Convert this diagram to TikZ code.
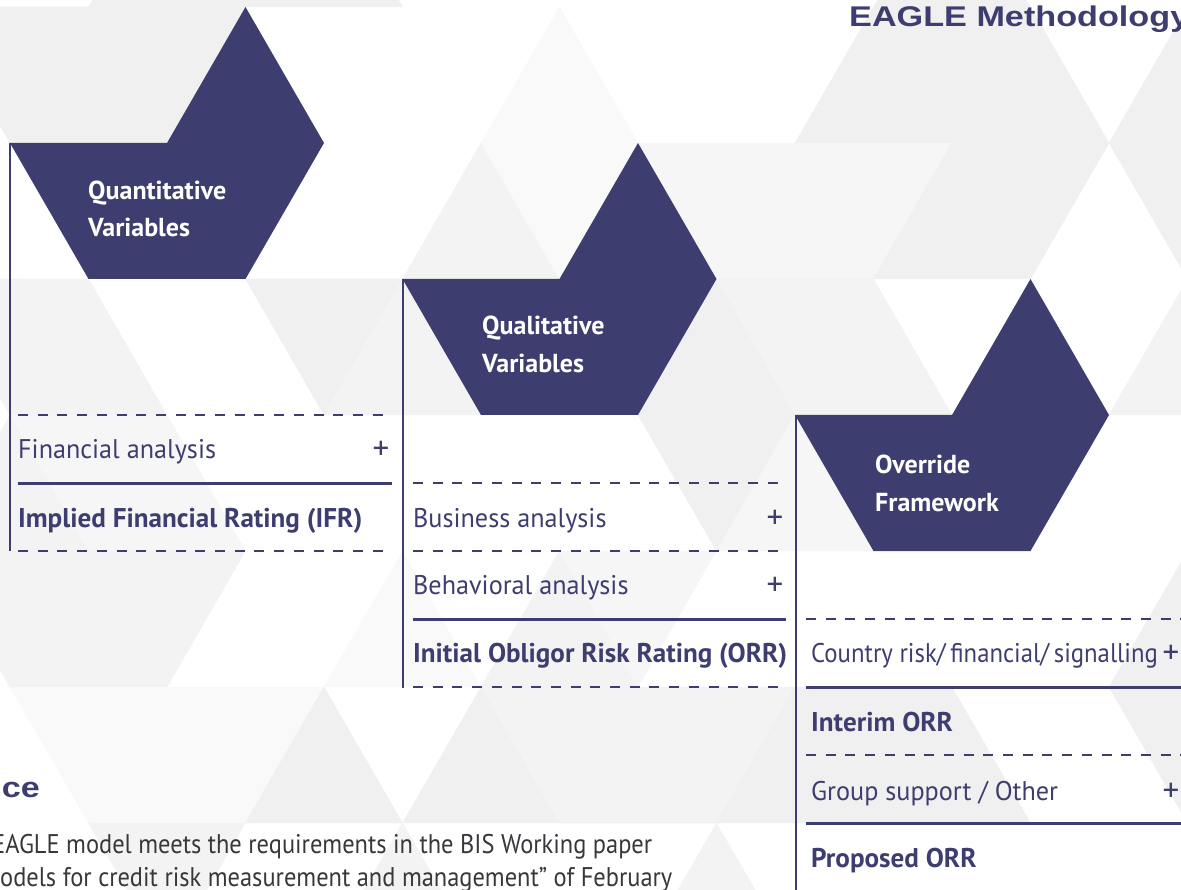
\documentclass[tikz,border=0pt]{standalone}
\usepackage{fontspec}
\setmainfont{PT Sans}
\newfontfamily\titlefont[FakeStretch=1.2]{Liberation Sans}
\newfontfamily\rowfont[FakeStretch=0.97]{PT Sans}
\newfontfamily\parafont[FakeStretch=0.905]{PT Sans}
\definecolor{navy}{RGB}{62,61,112}
\definecolor{txtgray}{RGB}{55,55,60}
\definecolor{gA}{RGB}{240,240,240}
\definecolor{gB}{RGB}{243,243,243}
\definecolor{gC}{RGB}{246,246,246}
\definecolor{gD}{RGB}{249,249,249}
\newcommand{\Utri}[3]{\filldraw[fill=#3,draw=#3,line width=0.4pt] ({10+78.5*(#1)},{7+136*(#2)}) -- ({10+78.5*(#1-1)},{7+136*(#2+1)}) -- ({10+78.5*(#1+1)},{7+136*(#2+1)}) -- cycle;}
\newcommand{\Dtri}[3]{\filldraw[fill=#3,draw=#3,line width=0.4pt] ({10+78.5*(#1)},{7+136*(#2)}) -- ({10+78.5*(#1+2)},{7+136*(#2)}) -- ({10+78.5*(#1+1)},{7+136*(#2+1)}) -- cycle;}
\newcommand{\bannerat}[2]{\fill[navy] (#1,#2) -- ++(157,0) -- ++(78.5,-136) -- ++(78.5,136) -- ++(-78.5,136) -- ++(-157,0) -- cycle;}
\tikzset{
  bantext/.style={anchor=base west,inner sep=0,text=white,font=\fontsize{26}{30}\selectfont\bfseries},
  rowtext/.style={anchor=base west,inner sep=0,text=navy,font=\rowfont\fontsize{27}{30}\selectfont},
  rowbold/.style={anchor=base west,inner sep=0,text=navy,font=\fontsize{27.1}{30}\selectfont\bfseries},
  plus/.style={anchor=center,inner sep=0,text=navy,font=\fontsize{33}{33}\selectfont},
  flag/.style={draw=navy,line width=2pt},
  dashsep/.style={draw=navy,line width=1.5pt,dash pattern=on 10pt off 9.7pt},
  solidsep/.style={draw=navy,line width=3pt},
  heading/.style={inner sep=0,text=navy,font=\titlefont\fontsize{28.5}{30}\selectfont\bfseries},
  para/.style={anchor=base west,inner sep=0,text=txtgray,font=\parafont\fontsize{27}{30}\selectfont}
}
\begin{document}
\begin{tikzpicture}[x=1pt,y=-1pt]
\useasboundingbox (0,0) rectangle (1181,890);
\begin{scope}
\clip (0,0) rectangle (1181,890);
% ---------- background triangles ----------
\Utri{2}{-1}{gA}\Dtri{2}{-1}{gA}\Utri{4}{-1}{gA}\Utri{12}{-1}{gA}
\Dtri{-1}{0}{gA}\Utri{1}{0}{gA}\Dtri{1}{0}{gA}
\Utri{7}{0}{gD}
\Utri{11}{0}{gA}\Dtri{11}{0}{gA}\Utri{13}{0}{gA}\Utri{15}{0}{gA}
\Utri{6}{1}{gB}\Dtri{6}{1}{gD}
\Dtri{8}{1}{gC}\Utri{10}{1}{gC}\Dtri{10}{1}{gC}
\Utri{12}{1}{gA}\Dtri{12}{1}{gA}\Dtri{14}{1}{gA}
\Dtri{-1}{2}{gB}\Utri{1}{2}{gB}
\Dtri{3}{2}{gA}\Utri{5}{2}{gB}
\Utri{9}{2}{gA}\Dtri{9}{2}{gB}\Utri{11}{2}{gB}
\Utri{15}{2}{gB}
\Utri{0}{3}{gB}\Dtri{0}{3}{gC}\Utri{2}{3}{gC}
\Dtri{8}{3}{gA}\Utri{10}{3}{gC}
\Dtri{-1}{4}{gB}\Utri{1}{4}{gB}\Dtri{1}{4}{gB}
\Utri{5}{4}{gD}\Utri{7}{4}{gB}\Dtri{7}{4}{gC}
\Utri{15}{4}{gA}
\Dtri{0}{5}{gD}\Utri{2}{5}{gD}\Dtri{2}{5}{gD}\Utri{4}{5}{gA}
\Utri{6}{5}{gA}\Dtri{6}{5}{gB}\Utri{8}{5}{gB}\Dtri{8}{5}{gB}
\Utri{10}{5}{gA}\Dtri{10}{5}{gA}\Utri{12}{5}{gA}\Dtri{14}{5}{gA}
\Dtri{1}{6}{gB}\Utri{5}{6}{gB}\Utri{9}{6}{gB}
% ---------- banners ----------
\bannerat{10}{143}
\bannerat{402.5}{279}
\bannerat{795}{415}
% ---------- title (cut at right edge) ----------
\node[heading,anchor=base west] (title) at (849,27) {EAGLE Methodology};
\node[heading,anchor=base east] (ce) at (40,797) {ce};
% ---------- paragraph (cut at left edge) ----------
\node[para] (par1) at (-8,853) {EAGLE model meets the requirements in the BIS Working paper};
\node[para] (par2) at (0,886) {odels for credit risk measurement and management” of February};
\end{scope}
% ---------- banner texts ----------
\node[bantext] (q1) at (88,200) {Quantitative};
\node[bantext] (q2) at (88,237) {Variables};
\node[bantext] (l1) at (482,335) {Qualitative};
\node[bantext] (l2) at (482,373) {Variables};
\node[bantext] (o1) at (875,473) {Override};
\node[bantext] (o2) at (875,511) {Framework};
% ---------- flag lines ----------
\coordinate (f1t) at (10,143); \coordinate (f1b) at (10,551);
\coordinate (f2t) at (403,279); \coordinate (f2b) at (403,688);
\coordinate (f3t) at (796,415); \coordinate (f3b) at (796,890);
\draw[flag] (f1t) -- (f1b);
\draw[flag] (f2t) -- (f2b);
\draw[flag] (f3t) -- (f3b);
% ---------- panel 1 ----------
\coordinate (p1a) at (18,415); \coordinate (p1A) at (392,415);
\coordinate (p1b) at (18,483); \coordinate (p1B) at (392,483);
\coordinate (p1c) at (18,551); \coordinate (p1C) at (392,551);
\draw[dashsep] (p1a) -- (p1A);
\draw[solidsep] (p1b) -- (p1B);
\draw[dashsep] (p1c) -- (p1C);
\node[rowtext] (fin) at (18,458) {Financial analysis};
\node[plus] (finp) at (381,450) {+};
\node[rowbold] (ifr) at (18,527) {Implied Financial Rating (IFR)};
% ---------- panel 2 ----------
\coordinate (p2a) at (413,483); \coordinate (p2A) at (786,483);
\coordinate (p2b) at (413,551); \coordinate (p2B) at (786,551);
\coordinate (p2c) at (413,619); \coordinate (p2C) at (786,619);
\coordinate (p2d) at (413,687); \coordinate (p2D) at (786,687);
\draw[dashsep] (p2a) -- (p2A);
\draw[dashsep] (p2b) -- (p2B);
\draw[solidsep] (p2c) -- (p2C);
\draw[dashsep] (p2d) -- (p2D);
\node[rowtext] (bus) at (413,527) {Business analysis};
\node[plus] (busp) at (775,519) {+};
\node[rowtext] (beh) at (413,594) {Behavioral analysis};
\node[plus] (behp) at (775,586) {+};
\node[rowbold] (orr) at (413,662) {Initial Obligor Risk Rating (ORR)};
% ---------- panel 3 ----------
\coordinate (p3a) at (806,619); \coordinate (p3A) at (1181,619);
\coordinate (p3b) at (806,687); \coordinate (p3B) at (1181,687);
\coordinate (p3c) at (806,755); \coordinate (p3C) at (1181,755);
\coordinate (p3d) at (806,823); \coordinate (p3D) at (1181,823);
\draw[dashsep] (p3a) -- (p3A);
\draw[solidsep] (p3b) -- (p3B);
\draw[dashsep] (p3c) -- (p3C);
\draw[solidsep] (p3d) -- (p3D);
\node[rowtext] (cty) at (811,662) {\scalebox{0.945}[1]{Country risk/\hspace{5pt}financial/\hspace{5pt}signalling}};
\node[plus] (ctyp) at (1171,654) {+};
\node[rowbold] (int) at (811,731) {Interim ORR};
\node[rowtext] (grp) at (811,800) {Group support / Other};
\node[plus] (grpp) at (1171,792) {+};
\node[rowbold] (prop) at (811,867) {Proposed ORR};
\end{tikzpicture}
\end{document}
